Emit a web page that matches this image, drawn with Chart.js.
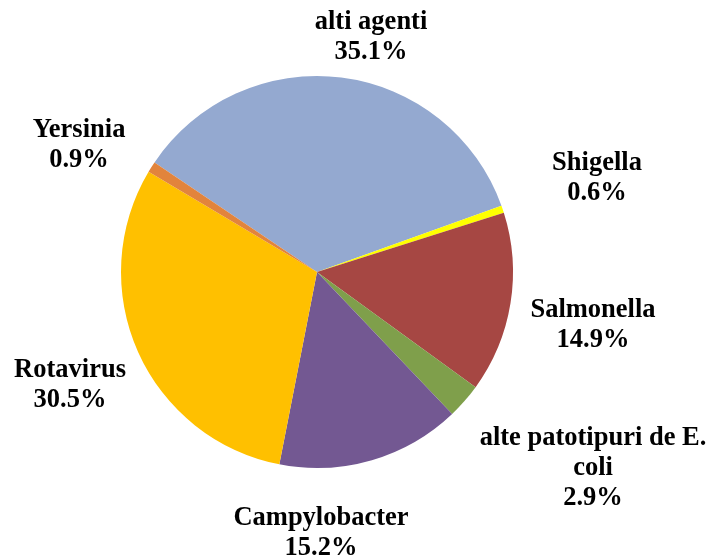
<!DOCTYPE html>
<html lang="ro">
<head>
    <meta charset="UTF-8">
    <title>Agenti etiologici</title>
    <script src="https://cdn.jsdelivr.net/npm/chart.js"></script>
    <style>
        html, body { margin: 0; padding: 0; background: #fff; }
        #wrap { width: 710px; height: 559px; }
    </style>
</head>
<body>
    <div id="wrap"><canvas id="pieChart"></canvas></div>
    <script>
        // data, clockwise starting from the big blue slice
        const categories = ['alti agenti', 'Shigella', 'Salmonella', 'alte patotipuri de E. coli', 'Campylobacter', 'Rotavirus', 'Yersinia'];
        const percents = [35.1, 0.6, 14.9, 2.9, 15.2, 30.5, 0.9];
        const labelLines = [
            ['alti agenti'],
            ['Shigella'],
            ['Salmonella'],
            ['alte patotipuri de E.', 'coli'],
            ['Campylobacter'],
            ['Rotavirus'],
            ['Yersinia']
        ];

        const colors = ['#94A9D0', '#FFFF00', '#A64743', '#7F9F4B', '#735892', '#FFC000', '#E2843C'];

        // label block centre, offset from pie centre (px)
        const labelOffsets = [[54, -235], [280, -94], [276, 53], [276, 196], [4, 261], [-247, 113], [-238, -127]];

        const outsideLabels = {
            id: 'outsideLabels',
            afterDraw(chart) {
                const ctx = chart.ctx;
                const meta = chart.getDatasetMeta(0);
                ctx.save();
                ctx.font = 'bold 26.5px "Liberation Serif", "Times New Roman", serif';
                ctx.fillStyle = '#000';
                ctx.textAlign = 'center';
                ctx.textBaseline = 'middle';
                const lh = 30;
                meta.data.forEach((arc, i) => {
                    const lines = labelLines[i].concat([percents[i].toFixed(1) + '%']);
                    const cx = arc.x + labelOffsets[i][0];
                    const cy = arc.y + labelOffsets[i][1];
                    const top = cy - (lines.length - 1) * lh / 2;
                    lines.forEach((t, j) => ctx.fillText(t, cx, top + j * lh));
                });
                ctx.restore();
            }
        };

        new Chart(document.getElementById('pieChart'), {
            type: 'pie',
            data: {
                labels: categories,
                datasets: [{
                    data: percents,
                    backgroundColor: colors,
                    borderWidth: 0
                }]
            },
            options: {
                responsive: true,
                maintainAspectRatio: false,
                animation: false,
                rotation: -56,
                layout: { padding: { left: 121, right: 197, top: 76, bottom: 91 } },
                plugins: {
                    legend: { display: false },
                    tooltip: { enabled: false }
                }
            },
            plugins: [outsideLabels]
        });
    </script>
</body>
</html>
